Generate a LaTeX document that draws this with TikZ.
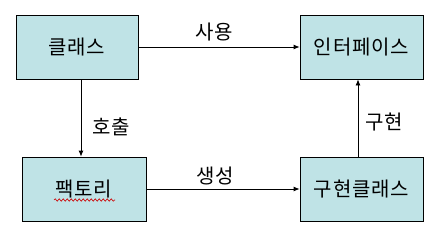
\documentclass[tikz,border=0pt]{standalone}
\usepackage{fontspec}
\setmainfont{Noto Sans CJK KR}[LetterSpace=4]
\usetikzlibrary{arrows.meta,decorations.pathmorphing}
\definecolor{boxfill}{RGB}{191,227,230}
\begin{document}
\begin{tikzpicture}[x=1pt,y=1pt,
  box/.style={draw=black,line width=0.8pt,fill=boxfill,minimum width=122pt,minimum height=64pt,inner sep=0pt,font=\fontsize{20}{22}\selectfont},
  conn/.style={line width=0.8pt,-{Latex[length=6pt,width=5pt]}},
  lbl/.style={font=\fontsize{20}{22}\selectfont,inner sep=0pt}]
\useasboundingbox (0,0) rectangle (439,234);
\node[box] (cls) at (77,187) {클래스};
\node[box,minimum width=123pt] (ifc) at (361.5,187) {인터페이스};
\node[box,minimum width=124pt] (fac) at (84,45) {팩토리};
\node[box,minimum width=123pt] (imp) at (361.5,45) {구현클래스};
\draw[conn] (cls.east) -- (ifc.west);
\draw[conn] ([xshift=4pt]cls.south) -- ([xshift=-3pt]fac.north);
\draw[conn] (fac.east) -- (imp.west);
\draw[conn] ([xshift=-3.5pt]imp.north) -- ([xshift=-3.5pt]ifc.south);
\node[lbl] (l1) at (214,202) {사용};
\node[lbl] (l2) at (111,107) {호출};
\node[lbl] (l3) at (215,58) {생성};
\node[lbl] (l4) at (384,112) {구현};
\coordinate (sq1) at (54,34);
\coordinate (sq2) at (115,34);
\draw[red!80!black,line width=0.6pt,decorate,decoration={snake,amplitude=1.2pt,segment length=4pt}] (sq1) -- (sq2);
\end{tikzpicture}
\end{document}
